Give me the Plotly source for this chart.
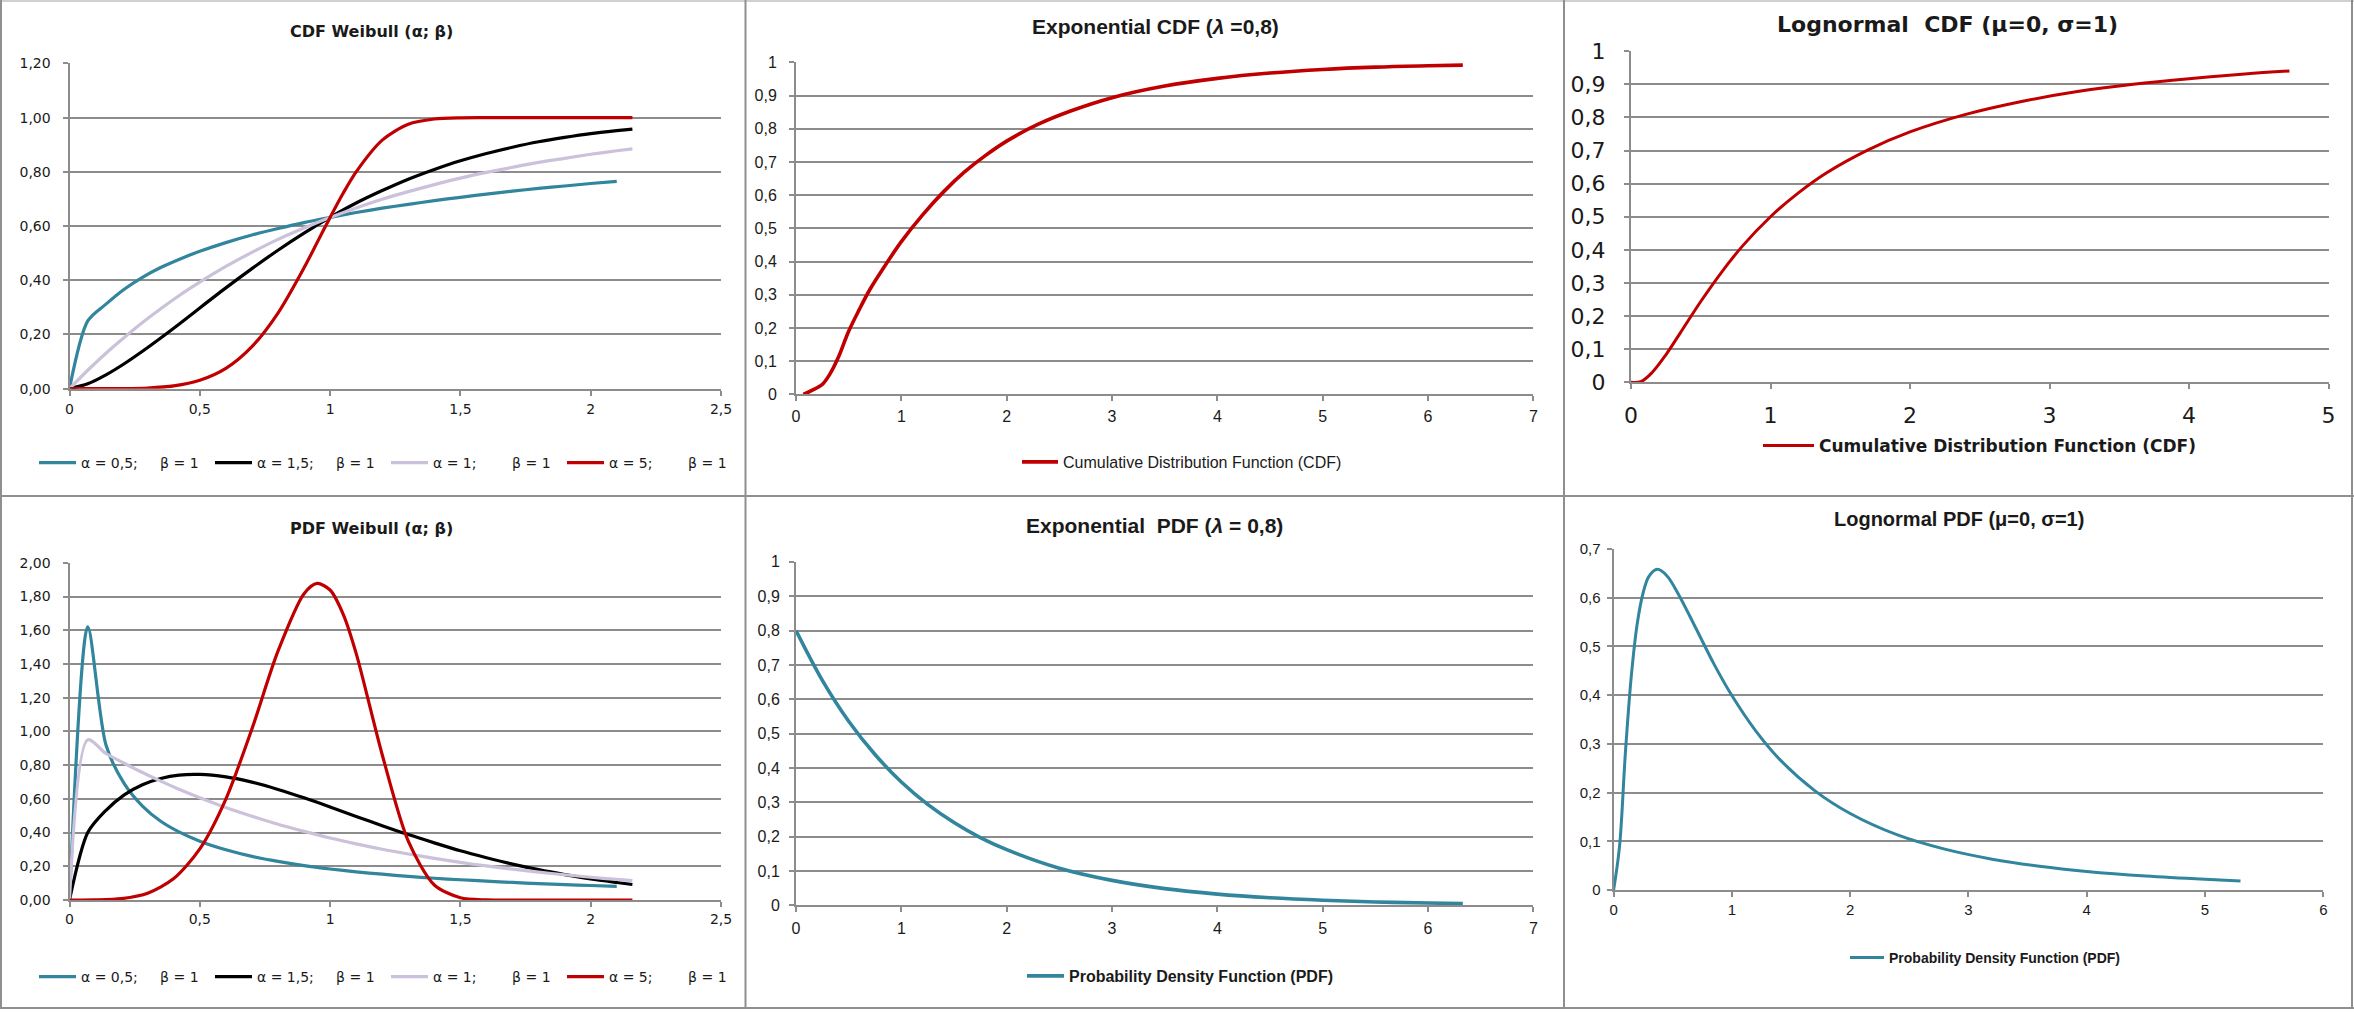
import plotly.graph_objects as go

W, H = 2354, 1012

# ---------------- data ----------------
W_X = [0, 0.07, 0.14, 0.21, 0.28, 0.35, 0.42, 0.5, 0.6, 0.7, 0.8, 0.9, 1.0, 1.1,
       1.2, 1.3, 1.4, 1.5, 1.6, 1.7, 1.8, 1.9, 2.0, 2.1, 2.16]
W_X_A05 = [0, 0.07, 0.14, 0.21, 0.28, 0.35, 0.42, 0.5, 0.6, 0.7, 0.8, 0.9, 1.0, 1.1,
           1.2, 1.3, 1.4, 1.5, 1.6, 1.7, 1.8, 1.9, 2.0, 2.1]
W_X_A5 = [0, 0.1, 0.2, 0.3, 0.4, 0.5, 0.6, 0.7, 0.8, 0.9, 0.95, 1.0, 1.05, 1.1,
          1.2, 1.3, 1.4, 1.5, 1.6, 1.7, 1.8, 1.9, 2.0, 2.1, 2.16]

CDF_A05 = [0, 0.25, 0.312, 0.367, 0.411, 0.447, 0.477, 0.507, 0.539, 0.567, 0.591,
           0.613, 0.632, 0.650, 0.666, 0.680, 0.694, 0.706, 0.718, 0.729, 0.739,
           0.748, 0.757, 0.765]
CDF_A15 = [0, 0.018, 0.051, 0.092, 0.138, 0.187, 0.238, 0.298, 0.372, 0.443, 0.511,
           0.574, 0.632, 0.685, 0.731, 0.773, 0.809, 0.841, 0.868, 0.891, 0.911,
           0.927, 0.941, 0.952, 0.958]
CDF_A1 = [0, 0.068, 0.131, 0.189, 0.244, 0.295, 0.343, 0.393, 0.451, 0.503, 0.551,
          0.593, 0.632, 0.667, 0.699, 0.727, 0.753, 0.777, 0.798, 0.817, 0.835,
          0.850, 0.865, 0.878, 0.885]
CDF_A5 = [0, 0, 0.0003, 0.0024, 0.0102, 0.0308, 0.0748, 0.155, 0.279, 0.446, 0.539,
          0.632, 0.721, 0.800, 0.917, 0.976, 0.995, 0.9995, 1.0, 1.0, 1.0, 1.0,
          1.0, 1.0, 1.0]

PDF_A05 = [0, 1.62, 0.919, 0.690, 0.557, 0.467, 0.404, 0.349, 0.298, 0.259, 0.229,
           0.204, 0.184, 0.167, 0.153, 0.140, 0.129, 0.120, 0.112, 0.104, 0.097,
           0.091, 0.086, 0.081]
PDF_A15 = [0, 0.40, 0.532, 0.624, 0.684, 0.721, 0.741, 0.745, 0.730, 0.699, 0.656,
           0.606, 0.552, 0.496, 0.441, 0.388, 0.339, 0.292, 0.251, 0.213, 0.180,
           0.151, 0.125, 0.104, 0.092]
PDF_A1 = [0, 0.95, 0.869, 0.811, 0.756, 0.705, 0.657, 0.607, 0.549, 0.497, 0.449,
          0.407, 0.368, 0.333, 0.301, 0.273, 0.247, 0.223, 0.202, 0.183, 0.165,
          0.150, 0.135, 0.122, 0.115]
PDF_A5 = [0, 0.0005, 0.008, 0.040, 0.127, 0.303, 0.599, 1.015, 1.476, 1.817, 1.878,
          1.839, 1.696, 1.463, 0.862, 0.349, 0.089, 0.013, 0.0006, 0, 0, 0, 0, 0, 0]

NB = "\u00a0"
WEIBULL_NAMES = ["α = 0,5;" + NB * 5 + "β = 1",
                 "α = 1,5;" + NB * 5 + "β = 1",
                 "α = 1;" + NB * 8 + "β = 1",
                 "α = 5;" + NB * 8 + "β = 1"]

EXP_CDF_X = [0.07, 0.15, 0.25, 0.32, 0.4, 0.5, 0.6, 0.7, 0.85, 1.0, 1.2, 1.4, 1.6,
             1.8, 2.0, 2.3, 2.6, 3.0, 3.5, 4.0, 4.5, 5.0, 5.5, 6.0, 6.33]
EXP_CDF_Y = [0.0, 0.012, 0.03, 0.06, 0.11, 0.19, 0.255, 0.315, 0.39, 0.46, 0.54,
             0.61, 0.67, 0.72, 0.763, 0.814, 0.853, 0.894, 0.929, 0.952, 0.968,
             0.979, 0.986, 0.990, 0.992]

EXP_PDF_X = [0, 0.25, 0.5, 0.75, 1, 1.25, 1.5, 1.75, 2, 2.5, 3, 3.5, 4, 4.5, 5,
             5.5, 6, 6.33]
EXP_PDF_Y = [0.8, 0.655, 0.536, 0.439, 0.359, 0.294, 0.241, 0.197, 0.162, 0.108,
             0.0726, 0.0486, 0.0326, 0.0219, 0.0147, 0.0098, 0.0066, 0.0050]

LN_CDF_X = [0, 0.07, 0.15, 0.25, 0.35, 0.5, 0.65, 0.8, 1.0, 1.2, 1.4, 1.7, 2.0,
            2.4, 2.8, 3.2, 3.6, 4.0, 4.4, 4.72]
LN_CDF_Y = [0, 0.002, 0.029, 0.083, 0.147, 0.244, 0.333, 0.412, 0.5, 0.572, 0.632,
            0.702, 0.756, 0.809, 0.848, 0.878, 0.900, 0.917, 0.931, 0.940]

LN_PDF_X = [0, 0.05, 0.1, 0.15, 0.2, 0.25, 0.3, 0.37, 0.45, 0.55, 0.7, 0.85, 1.0,
            1.2, 1.4, 1.7, 2.0, 2.4, 2.8, 3.2, 3.6, 4.0, 4.5, 5.0, 5.3]
LN_PDF_Y = [0, 0.089, 0.283, 0.440, 0.547, 0.610, 0.644, 0.658, 0.645, 0.606, 0.535,
            0.463, 0.399, 0.327, 0.269, 0.204, 0.157, 0.113, 0.0838, 0.0633, 0.0488,
            0.0381, 0.0286, 0.0219, 0.0187]

TITLES = ["CDF Weibull (α; β)", "Exponential CDF (<i>λ</i> =0,8)",
          "Lognormal" + NB * 2 + "CDF (μ=0, σ=1)", "PDF Weibull (α; β)",
          "Exponential" + NB * 2 + "PDF (<i>λ</i> = 0,8)", "Lognormal PDF (μ=0, σ=1)"]
CDF_NAME = "Cumulative Distribution Function (CDF)"
PDF_NAME = "Probability Density Function (PDF)"

# ---------------- styling ----------------
TEAL = "#31859C"
BLACK = "#000000"
LAVENDER = "#CCC1DA"
RED = "#C00000"
GRID = "#8C8C8C"
BORDER = "#8F8F8F"
TXT = "#1a1a1a"
DEJA = "DejaVu Sans"
LIB = "Liberation Sans"


def fx(px):
    return px / W


def fy(py):
    return 1 - py / H


# panel plot areas in pixels: (x0, x1, ytop, ybottom)
AREAS = [
    (69.5, 721, 63.3, 388.7),
    (796, 1533.4, 62.3, 394.3),
    (1631, 2328.5, 51, 382.3),
    (69.5, 721, 562.7, 900),
    (796, 1533.4, 561.7, 905.3),
    (1613.6, 2323.3, 548.7, 890),
]
XRANGES = [(0, 2.5, 0.5), (0, 7, 1), (0, 5, 1), (0, 2.5, 0.5), (0, 7, 1), (0, 6, 1)]
YRANGES = [(0, 1.2, 0.2), (0, 1, 0.1), (0, 1, 0.1), (0, 2, 0.2), (0, 1, 0.1), (0, 0.7, 0.1)]
YFMT = [".2f", "", "", ".2f", "", ""]
TICKFONTS = [(DEJA, 14), (LIB, 16), (DEJA, 22), (DEJA, 14), (LIB, 16), (LIB, 15)]
XSTANDOFF = [1, 1, 7, 0, 2, 0]
YSTANDOFF = [9, 9, 14, 9, 6, 3]

fig = go.Figure()

layout = dict(
    width=W, height=H,
    margin=dict(l=0, r=0, t=0, b=0, pad=0, autoexpand=False),
    paper_bgcolor="white", plot_bgcolor="white",
    separators=", ", showlegend=True,
)

for i in range(6):
    x0, x1, yt, yb = AREAS[i]
    sx = "" if i == 0 else str(i + 1)
    xr, yr = XRANGES[i], YRANGES[i]
    ff, fs = TICKFONTS[i]
    layout["xaxis" + sx] = dict(
        domain=[fx(x0), fx(x1)], anchor="y" + sx, range=[xr[0], xr[1]],
        dtick=xr[2], tick0=0, showgrid=False, zeroline=False, showline=True,
        linecolor=GRID, linewidth=2, ticks="outside", ticklen=5, tickwidth=1.5,
        tickcolor=GRID, tickfont=dict(family=ff, size=fs, color=TXT),
        ticklabelstandoff=XSTANDOFF[i], fixedrange=True, automargin=False,
    )
    layout["yaxis" + sx] = dict(
        domain=[fy(yb), fy(yt)], anchor="x" + sx, range=[yr[0], yr[1] * 1.0005],
        dtick=yr[2], tick0=0, showgrid=True, gridcolor=GRID, gridwidth=2,
        zeroline=False, showline=True, linecolor=GRID, linewidth=2,
        ticks="outside", ticklen=5, tickwidth=1.5, tickcolor=GRID,
        tickfont=dict(family=ff, size=fs, color=TXT), tickformat=YFMT[i],
        ticklabelstandoff=YSTANDOFF[i], fixedrange=True, automargin=False,
    )

# ---- Weibull traces ----
weib_cdf = [(W_X_A05, CDF_A05, TEAL), (W_X, CDF_A15, BLACK), (W_X, CDF_A1, LAVENDER),
            (W_X_A5, CDF_A5, RED)]
weib_pdf = [(W_X_A05, PDF_A05, TEAL), (W_X, PDF_A15, BLACK), (W_X, PDF_A1, LAVENDER),
            (W_X_A5, PDF_A5, RED)]
for k, (xs, ys, c) in enumerate(weib_cdf):
    fig.add_trace(go.Scatter(x=xs, y=ys, mode="lines", name=WEIBULL_NAMES[k],
                             line=dict(color=c, width=3.2, shape="spline", smoothing=0.8),
                             xaxis="x", yaxis="y", legend="legend"))
for k, (xs, ys, c) in enumerate(weib_pdf):
    fig.add_trace(go.Scatter(x=xs, y=ys, mode="lines", name=WEIBULL_NAMES[k],
                             line=dict(color=c, width=3.2, shape="spline", smoothing=0.8),
                             xaxis="x4", yaxis="y4", legend="legend4"))

fig.add_trace(go.Scatter(x=EXP_CDF_X, y=EXP_CDF_Y, mode="lines", name=CDF_NAME,
                         line=dict(color=RED, width=3.6, shape="spline", smoothing=1),
                         xaxis="x2", yaxis="y2", legend="legend2"))
fig.add_trace(go.Scatter(x=LN_CDF_X, y=LN_CDF_Y, mode="lines", name=CDF_NAME,
                         line=dict(color=RED, width=3, shape="spline", smoothing=1),
                         xaxis="x3", yaxis="y3", legend="legend3"))
fig.add_trace(go.Scatter(x=EXP_PDF_X, y=EXP_PDF_Y, mode="lines", name=PDF_NAME,
                         line=dict(color=TEAL, width=3.6, shape="spline", smoothing=1),
                         xaxis="x5", yaxis="y5", legend="legend5"))
fig.add_trace(go.Scatter(x=LN_PDF_X, y=LN_PDF_Y, mode="lines", name=PDF_NAME,
                         line=dict(color=TEAL, width=3, shape="spline", smoothing=1),
                         xaxis="x6", yaxis="y6", legend="legend6"))

# legends: (x_left px, y_center px, font family, size, weight, itemwidth, entrywidth)
LEG = {
    "legend": (34, 463, DEJA, 14, "normal", 37, 124),
    "legend4": (34, 977, DEJA, 14, "normal", 37, 124),
    "legend2": (1017, 462, LIB, 16, "normal", 36, 0),
    "legend5": (1022, 976, LIB, 16, "bold", 37, 0),
    "legend3": (1758, 446, DEJA, 17, "bold", 51, 0),
    "legend6": (1845, 958, LIB, 14, "bold", 34, 0),
}
for name, (lx, ly, fam, fsz, fw, iw, ew) in LEG.items():
    d = dict(orientation="h", x=fx(lx), y=fy(ly), xanchor="left", yanchor="middle",
             font=dict(family=fam, size=fsz, color=TXT, weight=fw),
             bgcolor="rgba(0,0,0,0)", itemwidth=iw, traceorder="normal",
             itemclick=False, itemdoubleclick=False)
    if ew:
        d["entrywidth"] = ew
        d["entrywidthmode"] = "pixels"
    layout[name] = d

# titles
TITLE_POS = [(372, 31, DEJA, 16), (1155, 27, LIB, 21), (1947, 25, DEJA, 22),
             (372, 528, DEJA, 16), (1154, 525, LIB, 21), (1959, 519, LIB, 20)]
annotations = []
for t, (cx, cy, fam, fsz) in zip(TITLES, TITLE_POS):
    annotations.append(dict(text=t, x=fx(cx), y=fy(cy), xref="paper", yref="paper",
                            xanchor="center", yanchor="middle", showarrow=False,
                            font=dict(family=fam, size=fsz, color=TXT, weight="bold")))
layout["annotations"] = annotations

# panel borders
shapes = []
def hline(x0, x1, y, c=BORDER, w=2):
    shapes.append(dict(type="line", xref="paper", yref="paper", x0=fx(x0), x1=fx(x1),
                       y0=fy(y), y1=fy(y), line=dict(color=c, width=w)))
def vline(x, y0, y1, c=BORDER, w=2):
    shapes.append(dict(type="line", xref="paper", yref="paper", x0=fx(x), x1=fx(x),
                       y0=fy(y0), y1=fy(y1), line=dict(color=c, width=w)))

hline(0, 2354, 1, "#D0D0D0")
hline(0, 2354, 496)
hline(0, 2354, 1008)
vline(1, 0, 1008)
vline(745.5, 0, 1008)
vline(1564, 0, 1008)
vline(2352, 0, 1008)
layout["shapes"] = shapes

fig.update_layout(**layout)
fig.write_html("out.html", config={"displayModeBar": False})
